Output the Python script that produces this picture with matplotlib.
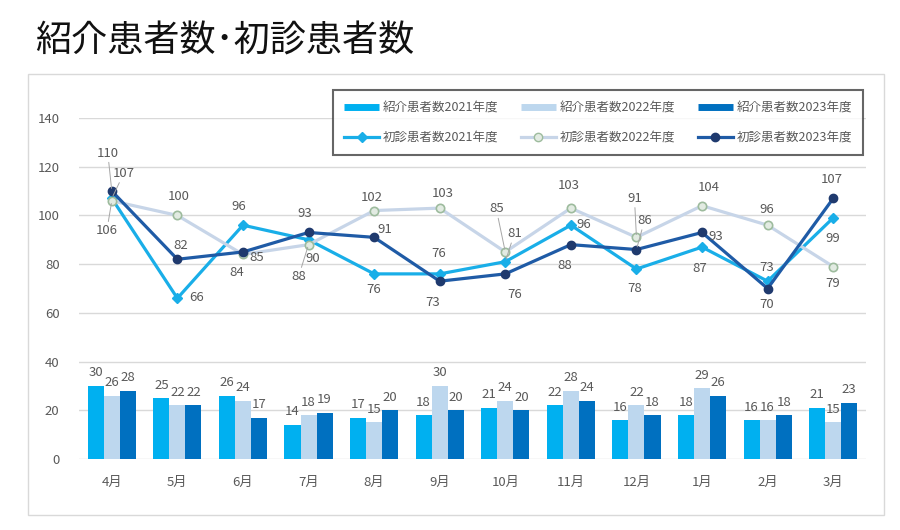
import matplotlib
matplotlib.use("Agg")
import matplotlib.pyplot as plt
import numpy as np
from matplotlib.lines import Line2D
from matplotlib.patches import Rectangle

plt.rcParams['font.family'] = ['Noto Sans CJK JP', 'DejaVu Sans']

title = "紹介患者数･初診患者数"
months = ["4月", "5月", "6月", "7月", "8月", "9月", "10月", "11月", "12月", "1月", "2月", "3月"]

ref_2021 = [30, 25, 26, 14, 17, 18, 21, 22, 16, 18, 16, 21]
ref_2022 = [26, 22, 24, 18, 15, 30, 24, 28, 22, 29, 16, 15]
ref_2023 = [28, 22, 17, 19, 20, 20, 20, 24, 18, 26, 18, 23]

new_2021 = [107, 66, 96, 90, 76, 76, 81, 96, 78, 87, 73, 99]
new_2022 = [106, 100, 84, 88, 102, 103, 85, 103, 91, 104, 96, 79]
new_2023 = [110, 82, 85, 93, 91, 73, 76, 88, 86, 93, 70, 107]

bar_names = ["紹介患者数2021年度", "紹介患者数2022年度", "紹介患者数2023年度"]
line_names = ["初診患者数2021年度", "初診患者数2022年度", "初診患者数2023年度"]

# label offsets (pixels) for line data labels
off_2021 = [(12, 25), (19, 1), (-4, 19), (4, -19), (0, -16), (-1, 20), (9, 28), (13, 1), (-2, -19), (-2, -21), (-1, 14), (0, -21)]
off_2022 = [(-5, -30), (1, 19), (-6, -18), (-10, -32), (-2, 13), (3, 15), (-9, 43), (-2, 23), (-2, 39), (7, 18), (-1, 16), (-1, -17)]
off_2023 = [(-4, 38), (3, 14), (14, -6), (-4, 19), (11, 8), (-7, -21), (9, -21), (-6, -21), (8, 29), (14, -4), (-1, -16), (-1, 19)]

c_bar = ["#00B0F0", "#BDD7EE", "#0070C0"]
c_line = ["#19AEE8", "#C7D5E8", "#1F5BA6"]
txt_c = "#595959"

fig = plt.figure(figsize=(9, 5.3), dpi=100)
fig.patch.set_facecolor("white")

# chart border
fig.add_artist(Rectangle((28 / 900, 1 - 515 / 530), (884 - 28) / 900, (515 - 74) / 530,
                         transform=fig.transFigure, fill=False, edgecolor="#D9D9D9", lw=1))

fig.text(35 / 900, 1 - 42 / 530, title, fontsize=26, va="center", ha="left", color="#111111")

ax = fig.add_axes([79 / 900, 71 / 530, 787 / 900, (412 - 71) / 530])
x = np.arange(len(months))
w = 0.245

for k, (vals, col) in enumerate(zip([ref_2021, ref_2022, ref_2023], c_bar)):
    xs = x + (k - 1) * w
    ax.bar(xs, vals, width=w, color=col, zorder=2)
    for xi, v in zip(xs, vals):
        ax.annotate(str(v), (xi, v), xytext=(0, 13), textcoords="offset pixels",
                    ha="center", va="center", fontsize=9.5, color=txt_c)

# lines
ax.plot(x, new_2021, color=c_line[0], lw=2.3, marker="D", ms=5, mfc=c_line[0], mec=c_line[0], zorder=3)
ax.plot(x, new_2022, color=c_line[1], lw=2.3, marker="o", ms=6, mfc="#E2EBE2", mec="#9DBB9D", mew=1.2, zorder=3)
ax.plot(x, new_2023, color=c_line[2], lw=2.3, marker="o", ms=6, mfc="#1F3A6E", mec="#1F3A6E", zorder=4)

for vals, offs in [(new_2021, off_2021), (new_2022, off_2022), (new_2023, off_2023)]:
    for xi, v, (dx, dy) in zip(x, vals, offs):
        kw = {}
        if (dx * dx + dy * dy) ** 0.5 >= 24:
            kw["arrowprops"] = dict(arrowstyle="-", color="#A6A6A6", lw=0.7, shrinkA=0, shrinkB=2)
        ax.annotate(str(v), (xi, v), xytext=(dx, dy), textcoords="offset pixels",
                    ha="center", va="center", fontsize=9.5, color=txt_c, zorder=6, **kw)

ax.set_xlim(-0.5, len(months) - 0.5)
ax.set_ylim(0, 140)
ax.set_yticks(range(0, 141, 20))
ax.set_xticks(x)
ax.set_xticklabels(months)
ax.tick_params(axis="both", length=0, colors=txt_c, labelsize=9.5)
ax.tick_params(axis="x", pad=12)
ax.tick_params(axis="y", pad=14)
ax.grid(axis="y", color="#D9D9D9", lw=1, zorder=0)
for s in ax.spines.values():
    s.set_visible(False)

handles = []
labels = []
for k in range(3):
    handles.append(Line2D([], [], color=c_bar[k], lw=5, solid_capstyle="butt"))
    labels.append(bar_names[k])
    if k == 0:
        handles.append(Line2D([], [], color=c_line[0], lw=2.3, marker="D", ms=5))
    elif k == 1:
        handles.append(Line2D([], [], color=c_line[1], lw=2.3, marker="o", ms=6, mfc="#E2EBE2", mec="#9DBB9D"))
    else:
        handles.append(Line2D([], [], color=c_line[2], lw=2.3, marker="o", ms=6, mfc="#1F3A6E", mec="#1F3A6E"))
    labels.append(line_names[k])

leg = fig.legend(handles, labels, ncol=3, loc="upper left",
                 bbox_to_anchor=(333 / 900, 1 - 91 / 530, (863 - 333) / 900, 0.001),
                 mode="expand", fontsize=9, frameon=True, fancybox=False,
                 edgecolor="#404040", handlelength=2.8, handletextpad=0.3,
                 borderpad=0.9, labelspacing=1.3, columnspacing=1.0, borderaxespad=0)
leg.get_frame().set_linewidth(1.5)
for t in leg.get_texts():
    t.set_color(txt_c)

fig.savefig("out.png", dpi=100, facecolor="white")
